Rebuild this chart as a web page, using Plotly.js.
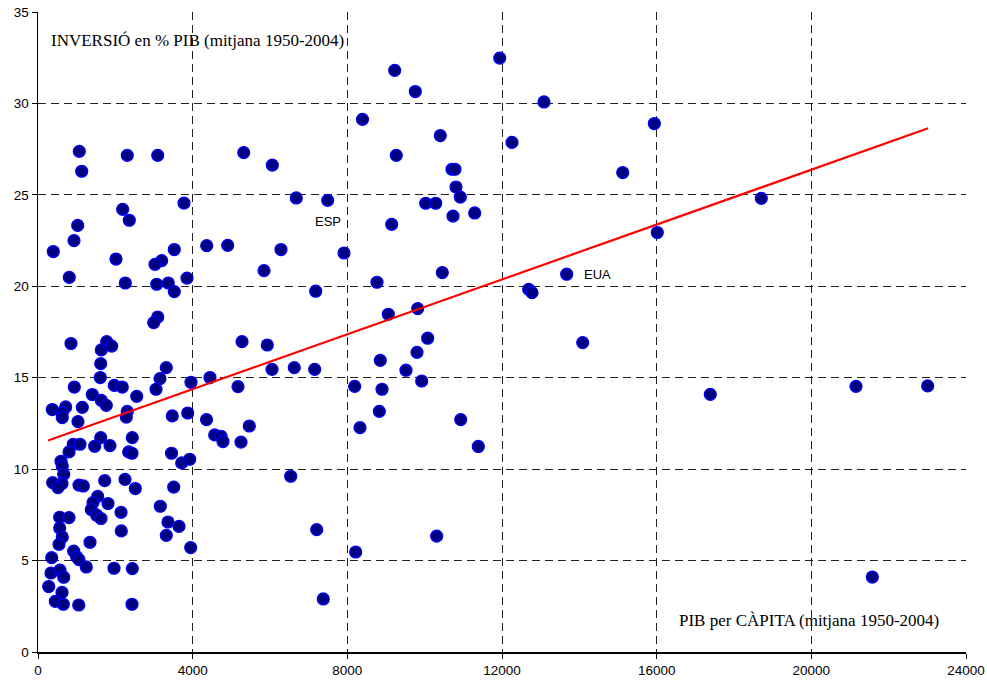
<!DOCTYPE html>
<html>
<head>
<meta charset="utf-8">
<script src="https://cdn.plot.ly/plotly-3.0.1.min.js"></script>
<style>html,body{margin:0;padding:0;background:#fff;}#chart{width:987px;height:682px;}</style>
</head>
<body>
<div id="chart"></div>
<script>
// PIB per càpita (mitjana 1950-2004)
const gdpPerCapita = [
1068,1130,2309,3096,3776,2190,2361,1027,931,396,
3525,2017,3199,3026,809,2258,3070,3370,3853,3525,
4363,4906,3096,2992,853,1777,1906,1637,1622,3318,
1611,3155,939,1973,2180,3052,3957,4448,1404,2553,
1637,1766,370,716,628,628,1146,2309,2284,1034,
3473,3872,4358,1622,913,1086,802,1466,1862,2439,
2346,2431,3453,3716,3923,595,628,665,380,621,
517,1060,1172,1725,2250,2516,3510,1544,1422,1810,
1378,1518,1629,2147,3163,561,802,561,628,543,
2154,3362,3647,3318,1345,3949,923,1001,1060,354,
1249,1966,2439,336,569,665,277,621,447,654,
1053,2431,4570,4733,4784,5250,5465,5172,5276,5930,
5845,6284,5320,6060,6680,7492,7914,7182,6052,6628,
7156,6535,7208,7378,8216,8190,8328,8392,9225,9758,
11941,13086,10404,12259,9266,15939,15122,10707,10784,10810,
10922,10027,10285,10733,11294,9147,16016,10456,8767,9060,
9820,10078,9802,8853,9517,9923,8897,8827,10932,11387,
10311,13673,12690,12776,14087,18706,17387,21155,23009,21577
];
// Inversió en % PIB (mitjana 1950-2004)
const investmentShare = [
27.38,26.29,27.16,27.16,24.55,24.21,23.61,23.33,22.50,21.90,
22.01,21.49,21.40,21.20,20.49,20.18,20.11,20.18,20.45,19.71,
22.22,22.24,18.32,18.01,16.87,16.97,16.73,16.52,15.77,15.55,
15.01,14.95,14.49,14.58,14.49,14.37,14.75,15.01,14.08,13.98,
13.76,13.49,13.26,13.40,13.09,12.82,13.38,13.16,12.85,12.60,
12.91,13.07,12.71,11.72,11.36,11.36,10.94,11.25,11.29,11.72,
10.94,10.87,10.87,10.34,10.54,10.43,10.17,9.72,9.26,9.21,
8.99,9.13,9.08,9.37,9.44,8.94,9.02,8.51,8.17,8.12,
7.79,7.48,7.30,7.64,7.97,7.37,7.35,6.78,6.29,5.89,
6.62,7.11,6.87,6.38,6.00,5.71,5.52,5.20,5.05,5.16,
4.65,4.58,4.56,4.32,4.48,4.09,3.58,3.26,2.77,2.61,
2.57,2.61,11.87,11.80,11.51,11.48,12.36,14.51,16.97,16.79,
20.86,22.01,27.31,26.63,24.83,24.70,21.82,19.73,15.46,15.55,
15.46,9.61,6.69,2.90,5.47,14.53,12.27,29.13,31.81,30.65,
32.48,30.08,28.24,27.87,27.16,28.90,26.22,26.40,26.40,25.43,
24.88,24.54,24.54,23.84,24.01,23.39,22.94,20.75,20.22,18.47,
18.78,17.16,16.39,15.95,15.41,14.82,14.37,13.16,12.71,11.24,
6.34,20.66,19.83,19.65,16.92,24.81,14.09,14.53,14.55,4.10
];
// Recta de tendència (extrems llegits del gràfic)
const trendX = [260, 23020];
const trendY = [11.57, 28.64];
// Etiquetes de països
const labelNames = ["ESP", "EUA"];
const labelX = [7492, 14461];
const labelY = [23.57, 20.65];
// Eixos
const xTicks = [0, 4000, 8000, 12000, 16000, 20000, 24000];
const yTicks = [0, 5, 10, 15, 20, 25, 30, 35];
const yTitle = "INVERSIÓ en % PIB (mitjana 1950-2004)";
const xTitle = "PIB per CÀPITA (mitjana 1950-2004)";

const traces = [
  {
    type: "scatter", mode: "markers",
    x: gdpPerCapita, y: investmentShare,
    marker: {size: 12, color: "#000080", line: {color: "#0000FF", width: 1.2}},
    hoverinfo: "x+y", showlegend: false, cliponaxis: false
  },
  {
    type: "scatter", mode: "lines",
    x: trendX, y: trendY,
    line: {color: "#FF0000", width: 2.2},
    showlegend: false
  }
];

const serif = "'Liberation Serif', 'DejaVu Serif', serif";
const sans = "'Liberation Sans', Arial, sans-serif";

const annotations = labelNames.map((t, i) => ({
  text: t, x: labelX[i], y: labelY[i], xref: "x", yref: "y",
  showarrow: false, xanchor: "center", yanchor: "middle",
  font: {family: sans, size: 13, color: "#000"}
}));
annotations.push({
  text: yTitle, xref: "paper", yref: "paper", x: 0.0119, y: 0.956,
  xanchor: "left", yanchor: "middle", showarrow: false,
  font: {family: serif, size: 17, color: "#000"}
});
annotations.push({
  text: xTitle, xref: "paper", yref: "paper", x: 0.973, y: 0.05,
  xanchor: "right", yanchor: "middle", showarrow: false,
  font: {family: serif, size: 17, color: "#000"}
});

const gridCommon = {
  showgrid: true, gridcolor: "#222", gridwidth: 1, griddash: "8px,5px",
  zeroline: false, showline: true, linecolor: "#000", linewidth: 1.5,
  ticks: "outside", ticklen: 5, tickwidth: 1, tickcolor: "#000",
  tickfont: {family: sans, size: 13.5, color: "#000"}
};

const layout = {
  width: 987, height: 682,
  margin: {l: 38, r: 21, t: 12, b: 30, pad: 0},
  paper_bgcolor: "#fff", plot_bgcolor: "#fff",
  showlegend: false,
  xaxis: Object.assign({}, gridCommon, {
    range: [0, 24000], tickmode: "array", tickvals: xTicks,
    ticktext: xTicks.map(String), mirror: false
  }),
  yaxis: Object.assign({}, gridCommon, {
    range: [0, 35], tickmode: "array", tickvals: yTicks,
    ticktext: yTicks.map(String), mirror: false
  }),
  annotations: annotations
};

Plotly.newPlot("chart", traces, layout, {displayModeBar: false, staticPlot: true});
</script>
</body>
</html>
